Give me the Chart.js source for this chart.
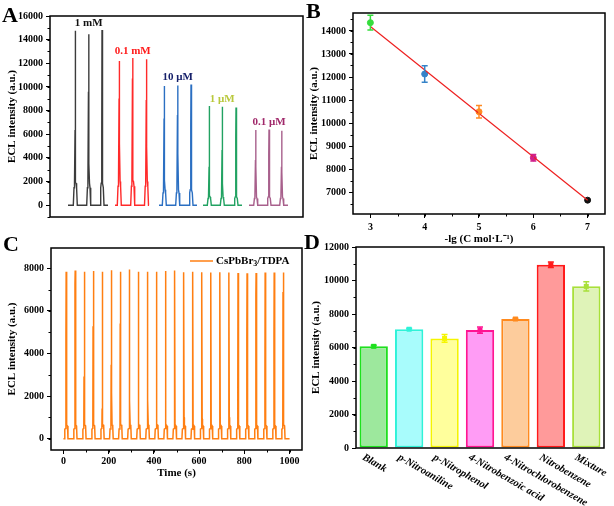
<!DOCTYPE html>
<html>
<head>
<meta charset="utf-8">
<script src="https://cdn.jsdelivr.net/npm/chart.js@4/dist/chart.umd.min.js"></script>
<style>
  body { margin: 0; background: #fff; width: 614px; height: 506px; position: relative; overflow: hidden; }
  canvas { position: absolute; }
  .tag { position: absolute; font: bold 22px "Liberation Serif", "Times New Roman", serif; line-height: 22px; color: #000; }
</style>
</head>
<body>
<canvas id="chartA" width="310" height="240" style="left:0;top:0"></canvas>
<canvas id="chartB" width="314" height="248" style="left:300px;top:0"></canvas>
<canvas id="chartC" width="310" height="252" style="left:0;top:230px"></canvas>
<canvas id="chartD" width="314" height="276" style="left:300px;top:230px"></canvas>
<div class="tag" style="left:2px;top:4px">A</div>
<div class="tag" style="left:306px;top:0">B</div>
<div class="tag" style="left:3px;top:233px">C</div>
<div class="tag" style="left:304px;top:231px">D</div>
<script>
// Panel A: ECL traces at five concentrations (x axis hidden, arbitrary time units)
const groupNamesA = ['1 mM', '0.1 mM', '10 μM', '1 μM', '0.1 μM'];
const traceStartA = [18, 65, 109, 153, 199];
const traceEndA = [58, 99, 147, 192, 238];
const peakTimesA = [[25.3, 38.7, 52], [69.3, 82.7, 96.5], [114.3, 127.7, 141], [159.3, 172.3, 186], [205.7, 219, 231.7]];
const peakHeightsA = [[14760, 14450, 14810], [12200, 12450, 12350], [10070, 10130, 10215], [8380, 8320, 8270], [6350, 6405, 6290]];
const riseA = [[6350, 9590, 6070], [9030, 10720, 8890], [7340, 7620, 6770], [3240, 4660, 5790], [3810, 4370, 3240]];
const fallA = [[1900, 3530, 2000], [5220, 2100, 4940], [2120, 4370, 1700], [800, 1830, 2800], [3240, 1410, 2800]];
const shoulderA = [1850, 2000, 1300, 700, 700];
const yTicksA = [0, 2000, 4000, 6000, 8000, 10000, 12000, 14000, 16000];

// Panel B: calibration
const concB = [3, 4, 5, 6, 7];
const meanB = [14360, 12130, 10490, 8490, 6650];
const errB = [320, 360, 270, 140, 0];
const fitX = [3, 7];
const fitY = [14190, 6650];
const xTicksB = [3, 4, 5, 6, 7];
const yTicksB = [7000, 8000, 9000, 10000, 11000, 12000, 13000, 14000];

// Panel C: stability, 25 cycles
const seriesNameC = 'CsPbBr3/TDPA';
const peakTimesC = [12, 52, 92, 132, 172, 212, 252, 292, 332, 372, 412, 452, 492, 532, 572, 612, 652, 692, 732, 772, 812, 852, 892, 932, 972];
const peakHeightsC = [7840, 7890, 7830, 7870, 7830, 7900, 7830, 7940, 7830, 7840, 7830, 7870, 7890, 7810, 7830, 7810, 7800, 7810, 7800, 7780, 7760, 7780, 7800, 7800, 7800];
const riseC = [4780, 7250, 2920, 5280, 1420, 3470, 5410, 7330, 3550, 5440, 1860, 4050, 6000, 2320, 4150, 6150, 2350, 4150, 6760, 2400, 4730, 6760, 2890, 4770, 6890];
const fallC = [750, 1340, 2280, 750, 600, 2170, 700, 1780, 700, 1860, 600, 700, 500, 1000, 440, 930, 465, 600, 1010, 500, 600, 460, 600, 500, 700];
const xTicksC = [0, 200, 400, 600, 800, 1000];
const yTicksC = [0, 2000, 4000, 6000, 8000];

// Panel D: selectivity
const categoriesD = ['Blank', 'p-Nitroaniline', 'p-Nitrophenol', '4-Nitrobenzoic acid', '4-Nitrochlorobenzene', 'Nitrobenzene', 'Mixture'];
const valuesD = [6070, 7090, 6540, 7040, 7700, 10940, 9650];
const errD = [70, 60, 230, 190, 50, 170, 270];
const yTicksD = [0, 2000, 4000, 6000, 8000, 10000, 12000];

const SERIF = '"Liberation Serif", "Times New Roman", serif';
Chart.defaults.font.family = SERIF;
Chart.defaults.font.weight = 'bold';
Chart.defaults.font.size = 10;
Chart.defaults.color = '#000';
Chart.defaults.animation = false;
Chart.defaults.plugins.legend.display = false;
Chart.defaults.plugins.tooltip.enabled = false;

const colorsA = ['#3c3c3c', '#ff2a2a', '#2b6fc2', '#22a262', '#a8608c'];
const labelColorsA = ['#111111', '#ff1a1a', '#16206a', '#b9c83c', '#a0286a'];
const colorsB = ['#35dd3c', '#3583c8', '#ff8a22', '#d0208c', '#111111'];
const colorC = '#ff7f12';
const fillD = ['#9de89d', '#a8fcfc', '#ffff9c', '#ff9cf5', '#fdcc9c', '#ff9a9a', '#dff3b8'];
const borderD = ['#1ee01e', '#2ef2d8', '#f5f500', '#ff1493', '#ff8a1e', '#ff1a1a', '#a8e03a'];

function traceA(g) {
  const pts = [{ x: traceStartA[g], y: 0 }];
  const sh = shoulderA[g];
  peakTimesA[g].forEach((t, i) => {
    pts.push(
      { x: t - 2, y: 0 }, { x: t - 1.3, y: sh * 0.8 }, { x: t - 0.8, y: sh },
      { x: t - 0.25, y: riseA[g][i] }, { x: t, y: peakHeightsA[g][i] },
      { x: t + 0.25, y: fallA[g][i] }, { x: t + 0.8, y: sh }, { x: t + 1.3, y: sh * 0.8 }, { x: t + 2, y: 0 }
    );
  });
  pts.push({ x: traceEndA[g], y: 0 });
  return pts;
}

function traceC() {
  const pts = [{ x: 0, y: 0 }];
  peakTimesC.forEach((t, i) => {
    pts.push(
      { x: t - 8, y: 0 }, { x: t - 6, y: 450 }, { x: t - 2, y: 480 },
      { x: t - 1, y: riseC[i] }, { x: t, y: peakHeightsC[i] },
      { x: t + 1.5, y: fallC[i] }, { x: t + 3, y: 650 }, { x: t + 6, y: 600 }, { x: t + 8, y: 0 }
    );
  });
  pts.push({ x: 1000, y: 0 });
  return pts;
}

// fixed tick values (Chart.js rounds oddly when min and max are both set)
const fixTicks = (values) => (s) => { s.ticks = values.map((value) => ({ value })); };
const plain = (v) => String(v);

const framePlugin = {
  id: 'frame',
  afterDraw(chart) {
    const { ctx, chartArea: a } = chart;
    ctx.save();
    ctx.strokeStyle = '#000';
    ctx.lineWidth = 1.5;
    ctx.strokeRect(a.left, a.top, a.right - a.left, a.bottom - a.top);
    ctx.restore();
  }
};

const minorTicks = {
  id: 'minorTicks',
  afterDraw(chart, args, opts) {
    const { ctx } = chart;
    ctx.save();
    ctx.strokeStyle = '#000';
    ctx.lineWidth = 1;
    Object.keys(opts.steps || {}).forEach((id) => {
      const s = chart.scales[id];
      const step = opts.steps[id];
      for (let v = Math.ceil(s.min / step) * step; v <= s.max + 1e-9; v += step) {
        const p = Math.round(s.getPixelForValue(v)) + 0.5;
        ctx.beginPath();
        if (s.isHorizontal()) { ctx.moveTo(p, s.top); ctx.lineTo(p, s.top + 2.5); }
        else { ctx.moveTo(s.right - 2.5, p); ctx.lineTo(s.right, p); }
        ctx.stroke();
      }
    });
    ctx.restore();
  }
};

const errorBars = {
  id: 'errorBars',
  afterDatasetsDraw(chart, args, opts) {
    const { ctx } = chart;
    const yScale = chart.scales.y;
    chart.data.datasets.forEach((ds, di) => {
      if (!ds.errors) return;
      const meta = chart.getDatasetMeta(di);
      meta.data.forEach((el, i) => {
        const raw = ds.data[i];
        const v = typeof raw === 'object' ? raw.y : raw;
        const e = ds.errors[i];
        const col = ds.errorColors[i];
        ctx.save();
        ctx.strokeStyle = col;
        ctx.fillStyle = col;
        ctx.lineWidth = 1.5;
        if (e > 0) {
          const yt = yScale.getPixelForValue(v + e);
          const yb = yScale.getPixelForValue(v - e);
          ctx.beginPath();
          ctx.moveTo(el.x, yt); ctx.lineTo(el.x, yb);
          ctx.moveTo(el.x - 3, yt); ctx.lineTo(el.x + 3, yt);
          ctx.moveTo(el.x - 3, yb); ctx.lineTo(el.x + 3, yb);
          ctx.stroke();
        }
        if (opts.squares) {
          const y = yScale.getPixelForValue(v);
          ctx.fillRect(el.x - 2.5, y - 2.5, 5, 5);
        }
        ctx.restore();
      });
    });
  }
};

const groupLabels = {
  id: 'groupLabels',
  afterDatasetsDraw(chart) {
    const { ctx, scales: { x, y } } = chart;
    ctx.save();
    ctx.font = 'bold 11px ' + SERIF;
    ctx.textAlign = 'center';
    ctx.textBaseline = 'middle';
    groupNamesA.forEach((name, g) => {
      ctx.fillStyle = labelColorsA[g];
      const top = Math.max(...peakHeightsA[g]);
      ctx.fillText(name, x.getPixelForValue(peakTimesA[g][1]), y.getPixelForValue(top) - 7);
    });
    ctx.restore();
  }
};

const legendC = {
  id: 'legendC',
  afterDraw(chart) {
    const { ctx, chartArea: a } = chart;
    const y = a.top + 13;
    ctx.save();
    ctx.strokeStyle = colorC;
    ctx.lineWidth = 1.5;
    ctx.beginPath();
    ctx.moveTo(a.right - 112, y);
    ctx.lineTo(a.right - 89, y);
    ctx.stroke();
    ctx.fillStyle = '#000';
    ctx.textAlign = 'left';
    ctx.textBaseline = 'middle';
    let x = a.right - 86;
    seriesNameC.split(/(\d+)/).forEach((part) => {
      if (!part) return;
      const sub = /^\d+$/.test(part);
      ctx.font = 'bold ' + (sub ? 8 : 11) + 'px ' + SERIF;
      ctx.fillText(part, x, sub ? y + 3 : y);
      x += ctx.measureText(part).width;
    });
    ctx.restore();
  }
};

const slantLabels = {
  id: 'slantLabels',
  afterDraw(chart) {
    const { ctx, chartArea, scales: { x } } = chart;
    ctx.save();
    ctx.font = 'italic bold 10.5px ' + SERIF;
    ctx.fillStyle = '#000';
    ctx.textAlign = 'left';
    ctx.textBaseline = 'top';
    chart.data.labels.forEach((label, i) => {
      ctx.save();
      ctx.translate(x.getPixelForTick(i) - 8, chartArea.bottom + 4);
      ctx.rotate(Math.PI / 6);
      ctx.fillText(label, 0, 0);
      ctx.restore();
    });
    ctx.restore();
  }
};

const tickGrid = { display: true, drawOnChartArea: false, drawTicks: true, tickLength: 4, color: '#000', lineWidth: 1 };
const axisTitle = (text, pad) => ({ display: true, text, font: { size: 11, weight: 'bold' }, padding: pad });

// A
new Chart(document.getElementById('chartA'), {
  type: 'scatter',
  data: {
    datasets: groupNamesA.map((name, g) => ({
      label: name,
      data: traceA(g),
      showLine: true,
      borderColor: colorsA[g],
      borderWidth: 1.4,
      pointRadius: 0,
      tension: 0
    }))
  },
  options: {
    responsive: false,
    devicePixelRatio: 1,
    layout: { padding: { top: 16, right: 7, bottom: 23, left: 0 } },
    scales: {
      x: { type: 'linear', display: false, min: 0, max: 253 },
      y: {
        min: -1000, max: 16000,
        afterBuildTicks: fixTicks(yTicksA),
        ticks: { padding: 3, callback: plain },
        grid: tickGrid, border: { display: false },
        title: axisTitle('ECL intensity (a.u.)', { top: 6 }),
        afterFit: (s) => { s.width = 50; }
      }
    },
    plugins: { minorTicks: { steps: { y: 1000 } } }
  },
  plugins: [framePlugin, minorTicks, groupLabels]
});

// B
new Chart(document.getElementById('chartB'), {
  type: 'scatter',
  data: {
    datasets: [
      {
        label: 'fit',
        data: fitX.map((x, i) => ({ x, y: fitY[i] })),
        showLine: true,
        borderColor: '#ee2020',
        borderWidth: 1.2,
        pointRadius: 0
      },
      {
        label: 'ECL',
        data: concB.map((x, i) => ({ x, y: meanB[i] })),
        pointRadius: 3,
        pointBackgroundColor: colorsB,
        pointBorderColor: colorsB,
        errors: errB,
        errorColors: colorsB
      }
    ]
  },
  options: {
    responsive: false,
    devicePixelRatio: 1,
    layout: { padding: { top: 13, right: 9, bottom: 0, left: 0 } },
    scales: {
      x: {
        type: 'linear', min: 2.68, max: 7.32,
        afterBuildTicks: fixTicks(xTicksB),
        ticks: { padding: 3, callback: plain },
        grid: tickGrid, border: { display: false },
        title: axisTitle('-lg (C mol·L⁻¹)', { bottom: 2 }),
        afterFit: (s) => { s.height = 34; }
      },
      y: {
        min: 6050, max: 14780,
        afterBuildTicks: fixTicks(yTicksB),
        ticks: { padding: 3, callback: plain },
        grid: tickGrid, border: { display: false },
        title: axisTitle('ECL intensity (a.u.)', { top: 8 }),
        afterFit: (s) => { s.width = 53; }
      }
    },
    plugins: { minorTicks: { steps: { x: 0.5, y: 500 } } }
  },
  plugins: [framePlugin, minorTicks, errorBars]
});

// C
new Chart(document.getElementById('chartC'), {
  type: 'scatter',
  data: {
    datasets: [{
      label: seriesNameC,
      data: traceC(),
      showLine: true,
      borderColor: colorC,
      borderWidth: 1.5,
      pointRadius: 0
    }]
  },
  options: {
    responsive: false,
    devicePixelRatio: 1,
    layout: { padding: { top: 18, right: 8, bottom: 0, left: 0 } },
    scales: {
      x: {
        type: 'linear', min: -55, max: 1055,
        afterBuildTicks: fixTicks(xTicksC),
        ticks: { padding: 1, callback: plain },
        grid: tickGrid, border: { display: false },
        title: axisTitle('Time (s)', { bottom: 2 }),
        afterFit: (s) => { s.height = 32; }
      },
      y: {
        min: -530, max: 8950,
        afterBuildTicks: fixTicks(yTicksC),
        ticks: { padding: 3, callback: plain },
        grid: tickGrid, border: { display: false },
        title: axisTitle('ECL intensity (a.u.)', { top: 6 }),
        afterFit: (s) => { s.width = 51; }
      }
    },
    plugins: { minorTicks: { steps: { x: 100, y: 1000 } } }
  },
  plugins: [framePlugin, minorTicks, legendC]
});

// D
new Chart(document.getElementById('chartD'), {
  type: 'bar',
  data: {
    labels: categoriesD,
    datasets: [{
      label: 'ECL',
      data: valuesD,
      backgroundColor: fillD,
      borderColor: borderD,
      borderWidth: 2,
      borderSkipped: false,
      barPercentage: 0.8,
      categoryPercentage: 1,
      errors: errD,
      errorColors: borderD
    }]
  },
  options: {
    responsive: false,
    devicePixelRatio: 1,
    layout: { padding: { top: 17, right: 10, bottom: 0, left: 0 } },
    scales: {
      x: {
        ticks: { display: false },
        grid: { display: false }, border: { display: false },
        afterFit: (s) => { s.height = 58; }
      },
      y: {
        min: 0, max: 12000,
        afterBuildTicks: fixTicks(yTicksD),
        ticks: { padding: 3, callback: plain },
        grid: tickGrid, border: { display: false },
        title: axisTitle('ECL intensity (a.u.)', { top: 10 }),
        afterFit: (s) => { s.width = 56; }
      }
    },
    plugins: { minorTicks: { steps: { y: 1000 } }, errorBars: { squares: true } }
  },
  plugins: [framePlugin, minorTicks, errorBars, slantLabels]
});
</script>
</body>
</html>
